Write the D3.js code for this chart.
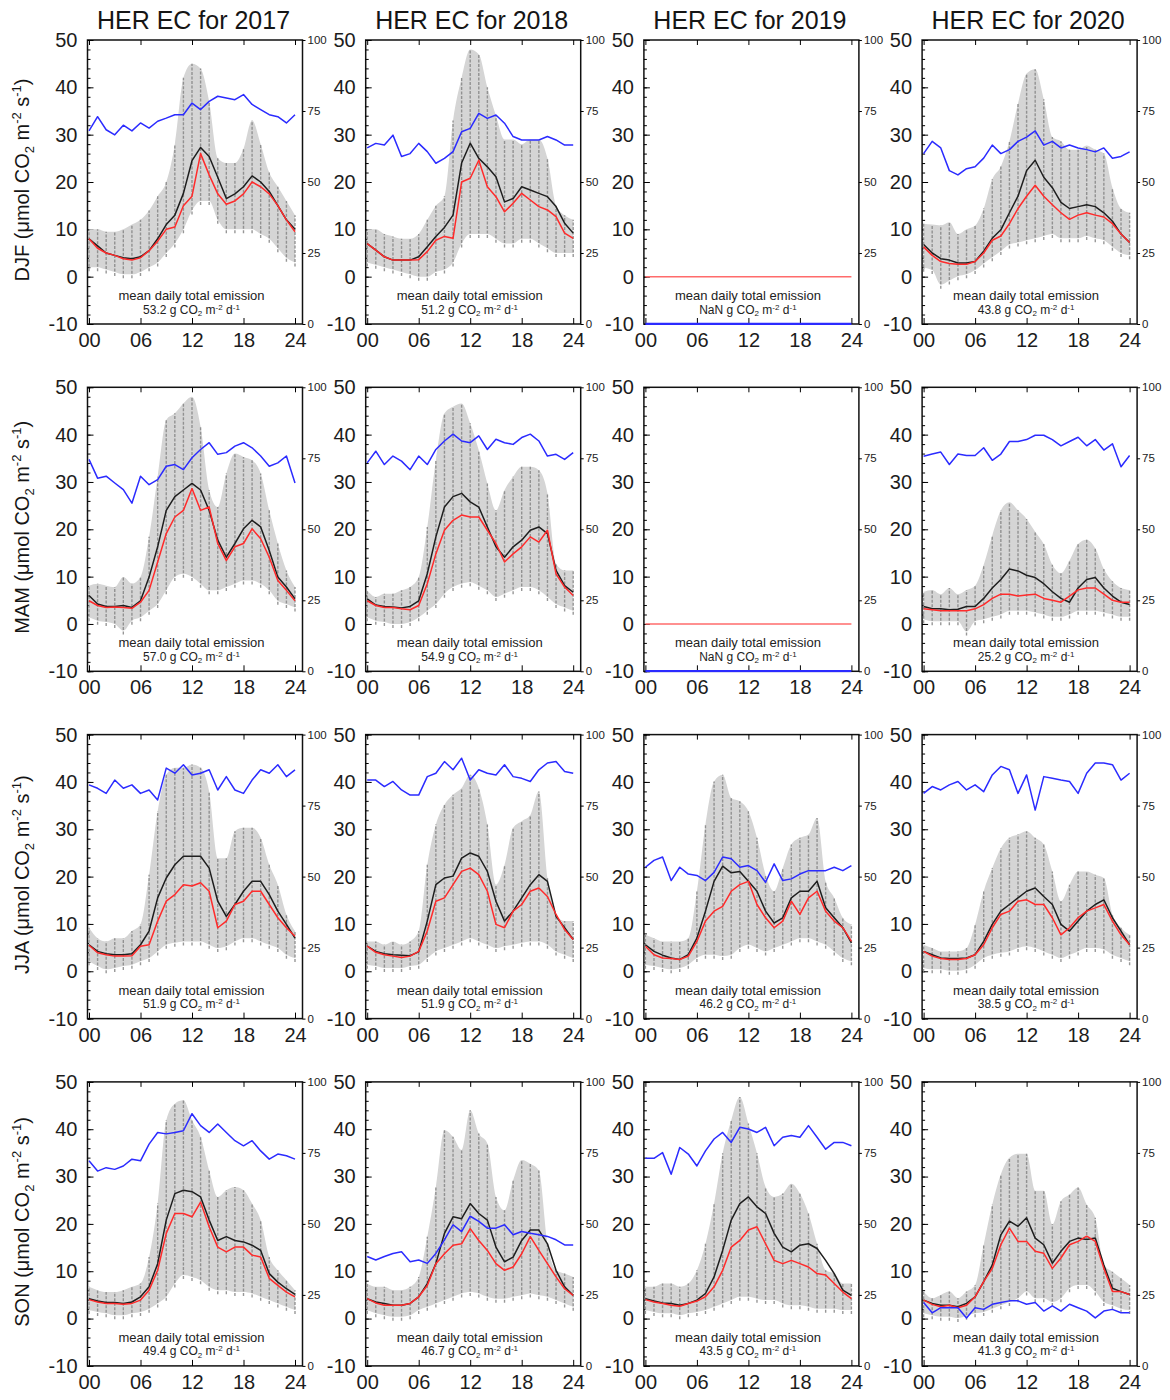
<!DOCTYPE html>
<html>
<head>
<meta charset="utf-8">
<script src="https://cdn.jsdelivr.net/npm/d3@7.9.0/dist/d3.min.js"></script>
<style>
  body { margin: 0; background: #fff; }
  svg { display: block; font-family: "Liberation Sans", Arial, sans-serif; }
</style>
</head>
<body>
<div id="chart"></div>
<script>
// hour of day (x values of every series)
const hours = [0, 1, 2, 3, 4, 5, 6, 7, 8, 9, 10, 11, 12, 13, 14, 15, 16, 17, 18, 19, 20, 21, 22, 23, 24];
const years = [2017, 2018, 2019, 2020];
const seasons = ["DJF", "MAM", "JJA", "SON"];
const xTicks = [0, 6, 12, 18, 24];
const yTicks = [-10, 0, 10, 20, 30, 40, 50];
const rTicks = [0, 25, 50, 75, 100];

// mean daily total emission (g CO2 m-2 d-1), rows = seasons, cols = years
const totalEmission = [
  ["53.2", "51.2", "NaN", "43.8"],
  ["57.0", "54.9", "NaN", "25.2"],
  ["51.9", "51.9", "46.2", "38.5"],
  ["49.4", "46.7", "43.5", "41.3"]
];

// 2019 winter/spring: no data, plotted as flat zero lines
const noData = [0, 0, 0, 0, 0, 0, 0, 0, 0, 0, 0, 0, 0, 0, 0, 0, 0, 0, 0, 0, 0, 0, 0, 0, 0];

// ---- DJF ----
const djfMean = [
  [8, 6.5, 5, 4.5, 4, 3.8, 4.2, 5.5, 8, 11, 13, 17.6, 24.5, 27.3, 25.4, 21, 16.5, 17.5, 19, 21.3, 20, 18, 15, 12, 10],
  [7, 5.6, 4.2, 3.5, 3.5, 3.5, 4.2, 6.3, 8.5, 10.4, 13, 24, 28.2, 25, 23.2, 21.1, 15.8, 16.5, 19, 18.3, 17.6, 16.9, 14.8, 11.3, 9.2],
  null,
  [6.8, 5, 3.8, 3.5, 2.9, 2.9, 3.2, 5.4, 8.1, 9.9, 13.5, 17, 22.4, 24.6, 21, 18.8, 15.7, 14.4, 14.8, 15.2, 14.8, 13.5, 11.7, 9, 7.2]
];
const djfMedian = [
  [8, 6, 5, 4.5, 3.8, 3.5, 4, 5.5, 7.5, 10, 10.5, 15, 17, 26, 21.5, 17.5, 15.3, 16, 17.5, 20, 19, 17.5, 15, 12, 9.5],
  [7, 5.6, 4.2, 3.5, 3.5, 3.5, 3.6, 5.3, 7.7, 8.5, 8.1, 20, 20.8, 24.6, 19, 16.9, 13.7, 15.5, 17.6, 16.2, 14.8, 14.1, 12.7, 9.2, 8.1],
  noData,
  [6.3, 4.5, 3.2, 2.8, 2.6, 2.6, 3.2, 5, 7.7, 8.6, 11.2, 14.4, 17, 19.3, 17, 15.2, 13.5, 12.1, 13, 13.5, 13, 12.6, 11.2, 9, 7.2]
];
const djfCover = [
  [68, 73, 68.4, 66.6, 70, 68, 70.8, 69, 71.4, 72.5, 73.7, 73.7, 77.8, 75.5, 78.4, 80.2, 79.6, 79, 80.8, 77.3, 75.5, 73.7, 73, 70.8, 73.7],
  [62, 63.6, 63, 66.5, 59, 60, 63.6, 60.7, 56.6, 58.3, 60.7, 67.7, 68.9, 74.2, 72.4, 73.6, 70.7, 66, 64.8, 64.8, 64.8, 66, 64.8, 63, 63],
  noData,
  [60, 64.3, 62, 54, 52.5, 54.7, 55.4, 58.4, 63, 60, 61.4, 64.3, 65.8, 68, 63, 64.3, 62, 63, 62, 61.4, 60.6, 62, 58.4, 59, 60.6]
];
const djfLo = [
  [2, 2, 1.5, 1, 0.5, 0.5, 1, 2, 3, 5, 7, 10, 14, 16, 16, 12, 10, 10, 10, 10, 9, 8, 6, 4, 3],
  [3, 2.5, 2, 1.5, 1, 0.5, 0, 0, 1, 1.5, 3, 7, 9, 9, 9, 8, 7, 7, 8, 8, 7, 6, 5, 5, 5],
  null,
  [1.9, 1.4, -1.7, -0.8, 0.1, 0.5, 1.4, 2.8, 4.1, 5.4, 6.8, 7.2, 7.7, 8.1, 8.6, 9, 8.1, 8.1, 8.1, 8.6, 8.1, 7.7, 6.3, 5, 4.5]
];
const djfHi = [
  [10, 10, 9.5, 9.5, 10, 11, 12, 14, 17, 20, 28, 42, 45, 44, 37, 25, 24, 24, 27, 33, 28, 22, 19, 16, 13],
  [10, 10, 9, 8.5, 8, 8, 9, 12, 15, 17, 33, 42, 48, 47, 40, 34, 29, 29, 28, 29, 29, 25, 15, 13, 12],
  null,
  [11.2, 11, 10.8, 11.5, 9, 10, 10.8, 14.4, 20.6, 23.3, 28.6, 36.6, 42.9, 43.8, 37.5, 29.5, 28.6, 26.8, 26.8, 27.7, 26.8, 26, 18.8, 14.4, 13.5]
];

// ---- MAM ----
const mamMean = [
  [6, 4.2, 3.7, 3.7, 3.9, 3.5, 4.9, 9.9, 16.3, 24, 26.9, 28.3, 29.7, 28.3, 24, 17.7, 14.1, 17, 20.1, 21.9, 20.5, 15.5, 9.9, 7.8, 5.3],
  [5.3, 4, 3.7, 3.6, 3.4, 3.7, 4.9, 10.6, 18.4, 24.7, 26.9, 27.6, 25.8, 24.7, 20.5, 16.3, 14.1, 16.3, 17.7, 19.8, 20.5, 19.1, 11.3, 8.1, 6.7],
  null,
  [3.7, 3.2, 3.2, 3, 3.1, 3.7, 3.7, 5.4, 7.6, 9.4, 11.6, 11.2, 10.3, 9.8, 8.5, 6.8, 5.4, 4.6, 7.6, 9.4, 9.8, 7.6, 5.9, 4.6, 4.1]
];
const mamMedian = [
  [4.9, 3.9, 3.5, 3.6, 3.5, 3.3, 4.6, 7.1, 13.1, 19.1, 22.6, 24, 28.6, 24, 24.7, 17, 13.4, 16.3, 17, 20.1, 18, 14.1, 9.2, 7.1, 4.9],
  [4.9, 3.9, 3.5, 3.5, 3.2, 3, 3.9, 8.5, 14.8, 19.8, 21.9, 23, 22.6, 22.6, 19.8, 17, 13.1, 14.8, 16.3, 18.4, 17.3, 19.8, 10.6, 7.8, 6],
  noData,
  [3.2, 3, 2.8, 2.8, 2.8, 2.8, 3.2, 4.1, 5.4, 6.3, 6.3, 5.9, 6.1, 6.3, 5.4, 5, 4.6, 5.9, 7.2, 7.6, 7.6, 6.3, 5, 4.6, 4.6]
];
const mamCover = [
  [74.6, 68, 68.7, 66.3, 64, 59.2, 68.7, 65.7, 67.5, 72.2, 72.8, 71, 75.2, 78.1, 80.5, 76.4, 77, 79.3, 80.5, 78.7, 75.8, 72.2, 73.4, 75.8, 66.3],
  [73.4, 77.5, 72.8, 75.8, 74, 71, 75.8, 72.8, 78.1, 81.1, 83.5, 81.1, 80.5, 82.9, 78.1, 81.7, 80.5, 79.9, 82.3, 83.5, 81.1, 75.8, 76.4, 74.6, 77],
  noData,
  [75.7, 76.5, 77.2, 72.8, 76.5, 76, 76, 78.7, 74.3, 76.5, 80.9, 80.9, 81.6, 83.1, 83.1, 81.6, 79.4, 80.9, 82.4, 79.4, 81.6, 77.9, 80.1, 72, 76]
];
const mamLo = [
  [1.4, 0.7, 0.4, 0, -1.4, 0.7, 1.4, 2.8, 4.2, 7.1, 9.9, 10.6, 9.9, 8.5, 7.1, 7.1, 7.8, 8.5, 9.2, 9.2, 8.5, 7.1, 4.9, 4.2, 3.5],
  [1.4, 0.7, 0.4, 0, 0, 0.4, 1.4, 2.8, 4.2, 6.4, 7.8, 8.5, 8.8, 8.1, 7.1, 5.7, 6.4, 7.1, 7.8, 7.8, 7.1, 5.7, 4.2, 3.5, 2.8],
  null,
  [1, 0.6, 0.6, 0.6, 0.6, -1.6, 0.6, 1, 1.5, 2, 2.8, 2.8, 2.8, 2.4, 2, 1.5, 1.5, 2, 2.8, 2.8, 2.8, 2.4, 2, 1.5, 1.5]
];
const mamHi = [
  [8.1, 8.5, 8.1, 7.8, 9.9, 8.5, 9.9, 18.4, 31.1, 43.1, 44.5, 46.6, 48, 41.7, 28.3, 24.7, 31.8, 36, 35.3, 34.6, 31.8, 24, 17, 11.3, 7.8],
  [7.1, 5.7, 6.4, 6.4, 7.1, 7.8, 9.9, 20.5, 34.6, 44.5, 45.9, 46.6, 42.4, 36.7, 29.7, 24, 28.3, 31.1, 33.2, 33.2, 32.5, 27.6, 12.7, 11.3, 11.3],
  null,
  [6.8, 7.2, 6.3, 7.6, 6.3, 7.2, 8.1, 12.5, 18.7, 24, 25.7, 24, 22.2, 19.5, 16.9, 12.5, 10.7, 13.4, 16.9, 17.8, 16, 11.6, 9, 7.6, 7.2]
];

// ---- JJA ----
const jjaMean = [
  [5.6, 4.2, 3.7, 3.5, 3.5, 3.7, 5.6, 8.5, 15.5, 19.7, 22.5, 24.3, 24.3, 24.3, 21.8, 14.8, 11.6, 14.1, 16.9, 19, 19, 16.2, 12.7, 9.9, 7],
  [5.3, 4.2, 3.7, 3.5, 3.4, 3.3, 4.1, 10.6, 18.3, 19.7, 20.1, 23.9, 25, 24.3, 21.1, 14.8, 10.6, 12.7, 15.5, 18.3, 20.4, 19, 11.6, 9.2, 6.7],
  [5.6, 4.2, 3.4, 2.8, 2.5, 3.5, 7, 12.7, 19, 22.2, 20.8, 21.1, 19, 16.9, 12.7, 10.2, 11.3, 15.5, 16.9, 16.9, 19, 13.4, 11.3, 9.2, 6],
  [4.2, 3.5, 2.8, 2.7, 2.7, 2.8, 3.5, 6.3, 9.9, 12.7, 14.1, 15.5, 16.9, 17.6, 15.8, 14.1, 9.9, 8.5, 10.6, 12.7, 14.1, 15.1, 11.3, 8.5, 5.6]
];
const jjaMedian = [
  [5.5, 3.9, 3.5, 3.2, 3.2, 3.3, 5.3, 5.6, 10.6, 14.8, 16.2, 18.3, 18, 18.7, 16.9, 9.2, 10.6, 14.1, 14.8, 16.9, 16.9, 14.1, 11.3, 9.2, 7.4],
  [5.3, 4, 3.5, 3.2, 2.9, 3.2, 4.2, 8.5, 14.8, 15.5, 18.3, 21.1, 21.8, 20.4, 16.9, 9.9, 9.2, 12.7, 14.1, 16.9, 17.6, 15.8, 12, 8.8, 6.7],
  [5.3, 3.5, 2.8, 2.7, 2.5, 3.2, 6.3, 10.6, 12.7, 13.7, 16.9, 18.3, 19, 14.1, 11.3, 9.2, 10.6, 14.8, 12, 15.5, 16.9, 12.7, 10.6, 9.2, 6.3],
  [4.2, 3.2, 2.7, 2.5, 2.5, 2.7, 3.5, 5.6, 9.2, 12, 12.7, 14.8, 15.1, 14.1, 14.1, 11.3, 7.7, 9.2, 11.3, 12.7, 13.4, 14.1, 10.6, 7.7, 5.6]
];
const jjaCover = [
  [82.3, 81.1, 79.3, 84, 81.1, 82.3, 79.3, 80.5, 77, 88.2, 86.4, 89.4, 85.8, 86.4, 87.6, 80.5, 85.2, 80.5, 79.3, 84, 87.6, 86.4, 89.4, 85.2, 87.6],
  [84, 84, 81.7, 83.5, 80.5, 78.7, 78.7, 85.2, 86.4, 90.5, 87.6, 91.7, 84, 87.6, 86.4, 85.8, 89.4, 85.2, 84.6, 83.5, 87.6, 90, 90.5, 87, 86.4],
  [53.3, 55.7, 56.9, 48.6, 53.3, 50.9, 50.4, 48.6, 51.5, 56.9, 56.3, 53.3, 53.9, 52.1, 48, 54.5, 48.6, 49.2, 50.9, 52.1, 52.1, 52.1, 53.3, 52.1, 53.9],
  [79.3, 81.7, 80.5, 82.3, 83.5, 80.5, 82.3, 79.9, 85.8, 88.8, 87.6, 79.3, 85.8, 73.4, 85.2, 84.6, 84, 83.5, 79.3, 86.4, 90, 90, 89.4, 84, 86.4]
];
const jjaLo = [
  [2.1, 1.1, 0.4, 0.7, 1.1, 1.4, 2.1, 2.8, 4.2, 5.6, 6, 6.3, 6.3, 6.3, 5.6, 4.9, 5.3, 6.3, 7, 7, 6.3, 5.6, 4.9, 3.5, 2.8],
  [1.4, 1.1, 0.7, 0.7, 0.7, 1.1, 1.4, 2.8, 4.2, 4.9, 5.6, 6.3, 7, 6.3, 5.6, 4.9, 5.3, 5.6, 6, 6.3, 6.3, 5.6, 4.2, 3.5, 2.8],
  [1.4, 1.1, 0.7, 0.4, 0.7, 1.4, 2.8, 3.5, 3.5, 3.2, 3.5, 4.9, 5.6, 4.9, 4.2, 4.9, 5.6, 6.3, 7, 7, 6.3, 5.6, 4.2, 2.8, 2.1],
  [0.7, 0.4, 0.4, 0.1, 0.1, 0.4, 1.4, 2.8, 3.5, 3.9, 4.2, 4.9, 5.3, 4.9, 4.2, 3.5, 2.8, 3.5, 4.2, 4.9, 4.9, 4.6, 3.5, 2.8, 2.1]
];
const jjaHi = [
  [9.2, 7, 6.3, 7, 7, 8.5, 9.9, 20.4, 33.8, 41.5, 43, 43, 43.7, 43, 38, 23.9, 23.9, 29.6, 30.3, 30.3, 28.2, 22.5, 18.3, 12, 8.5],
  [6.3, 6.3, 5.6, 6.3, 5.6, 6.3, 8.5, 22.5, 31, 35.2, 37.3, 38.7, 41.5, 38.7, 31, 18.3, 22.5, 30.3, 31.7, 33, 38, 19.7, 12, 10.6, 10.6],
  [7.7, 7, 6.3, 6.3, 6.3, 7, 16.9, 31, 40.1, 41.5, 36.6, 35.9, 33.8, 28.2, 20.4, 16.9, 21.8, 26.8, 28.2, 28.9, 32.4, 19, 15.5, 11.3, 9.9],
  [5.6, 4.9, 4.2, 4.2, 4.2, 4.9, 9.9, 16.9, 21.8, 26, 28.2, 28.9, 29.6, 28.2, 26.8, 21.1, 14.8, 18.3, 21.1, 21.1, 20.4, 19.7, 12, 9.2, 7.7]
];

// ---- SON ----
const sonMean = [
  [4.2, 3.7, 3.4, 3.4, 3.2, 3.5, 4.6, 6.7, 11.6, 20.8, 26.4, 27.1, 26.8, 25.7, 20.8, 16.5, 17.3, 16.5, 16.2, 15.5, 14.4, 9.5, 7.7, 6.3, 5.1],
  [4.2, 3.5, 3.2, 2.8, 2.8, 3.2, 4.6, 7.4, 11.6, 18, 21.5, 21.1, 24.3, 22.2, 20.8, 15.1, 12, 13, 16.5, 18.7, 18.7, 15.8, 10.2, 6.7, 4.9],
  [4.2, 3.7, 3.3, 3.2, 2.8, 3.2, 3.9, 5.3, 8.8, 14.4, 20.8, 24.3, 25.7, 23.6, 22.2, 18, 15.1, 14.1, 15.5, 15.8, 14.8, 12.3, 9.5, 6, 4.9],
  [3.9, 3.2, 2.8, 2.8, 2.5, 3.2, 4.6, 7.8, 11.3, 17.7, 20.6, 19.5, 21.3, 17, 15.6, 11.7, 14.2, 16.3, 17, 16.7, 17, 11.3, 6.4, 5.7, 5.1]
];
const sonMedian = [
  [4, 3.5, 3.2, 3.2, 3, 3.2, 3.9, 6, 10.2, 18, 22.2, 22.2, 21.5, 24.6, 19.4, 15.1, 14.1, 15.1, 15.1, 13.4, 13, 8.5, 7, 5.6, 4.6],
  [4.2, 3.3, 2.8, 2.8, 2.8, 3.2, 4.6, 7, 11.6, 13.7, 15.5, 15.8, 19, 16.5, 14.4, 11.6, 10.2, 10.9, 13.7, 17.3, 14.4, 11.6, 8.8, 6.3, 4.9],
  [4, 3.5, 3.2, 2.8, 2.6, 3.2, 3.7, 4.6, 6.7, 10.2, 15.1, 16.5, 18.7, 19.4, 15.8, 12.3, 11.6, 12.3, 11.6, 10.9, 9.5, 9.2, 7.4, 5.6, 4.2],
  [3.9, 3, 2.5, 2.8, 2.3, 2.8, 4.6, 7.8, 10.6, 15.6, 19.1, 16.3, 16.3, 14.2, 13.8, 10.6, 12.8, 15.6, 16.3, 17.4, 16.3, 10.6, 5.7, 5.7, 5.1]
];
const sonCover = [
  [72.2, 68.6, 69.8, 69.2, 70.4, 72.8, 72.2, 78.1, 82.2, 81.7, 82.2, 82.8, 88.8, 84.6, 82.2, 85.2, 82.2, 79.3, 77.5, 79.3, 75.7, 72.8, 74.6, 74, 72.8],
  [38.5, 37.3, 38.5, 39.6, 40.2, 36.7, 37.3, 36.1, 39.6, 44.4, 49.7, 47.3, 52.7, 50.9, 48.5, 48.5, 49.7, 46.2, 47.3, 46.7, 46.2, 45.6, 44.4, 42.6, 42.6],
  [73.1, 73.1, 75.1, 67.5, 76.9, 74.6, 70.4, 75.7, 79.9, 82.2, 78.7, 84, 83.4, 82.2, 84, 77.5, 80.5, 81.1, 80.5, 84.6, 80.5, 76.3, 78.7, 78.7, 77.5],
  [22.3, 18.7, 20.5, 20.5, 20.5, 16.9, 20.5, 19.9, 21.7, 22.3, 22.9, 22.9, 21.7, 22.3, 19.3, 21.1, 19.3, 21.7, 20.5, 19.3, 16.9, 19.3, 19.9, 18.7, 18.7]
];
const sonLo = [
  [1.8, 1.4, 1.1, 0.7, 0.7, 1.1, 1.4, 2.1, 3.2, 4.6, 7.4, 9.2, 8.8, 8.1, 6.7, 6, 6, 5.6, 5.6, 5.3, 4.6, 3.9, 3.2, 2.5, 1.8],
  [1.8, 1.1, 0.7, 0.4, 0.4, 0.7, 1.8, 2.5, 3.2, 3.9, 4.6, 5.3, 5.6, 5.3, 4.6, 4.2, 4.2, 4.6, 4.9, 5.3, 4.9, 4.6, 3.9, 3.2, 2.5],
  [1.8, 1.4, 1.1, 1.1, 0.7, 1.1, 1.4, 1.8, 2.5, 3.2, 3.9, 4.6, 4.6, 4.2, 3.9, 3.9, 3.2, 2.8, 2.8, 2.5, 2.1, 2.1, 2.1, 1.8, 1.8],
  [1.1, 0.7, 0.4, 0.4, 0.1, 0.6, 1.1, 1.4, 2.1, 2.8, 3.5, 4.3, 5.7, 4.3, 4.3, 3.5, 4.3, 6.4, 7.1, 7.1, 5.7, 3.5, 2.8, 2.1, 1.8]
];
const sonHi = [
  [6.7, 6, 5.6, 5.6, 6, 6.7, 7.4, 13, 24.3, 41.9, 45.4, 46.1, 41.9, 38.4, 31.3, 25.7, 27.1, 27.8, 27.1, 24.3, 20.8, 13, 10.2, 8.1, 6],
  [7.4, 6.7, 6.7, 6, 6, 6.7, 8.8, 17.3, 27.8, 39.8, 38.4, 35.6, 44, 39.1, 37, 25.7, 22.9, 29.2, 33.5, 32.7, 31.3, 15.8, 10.2, 9.5, 8.8],
  [6.7, 6.7, 7.4, 7.4, 6.7, 7.4, 10.2, 15.8, 24.3, 34.9, 41.9, 46.8, 41.2, 34.9, 27.8, 25.7, 26.4, 28.5, 26.4, 22.2, 15.8, 10.2, 9.5, 7.4, 7.4],
  [5.7, 4.3, 5, 5.7, 4.3, 5.7, 7.1, 15.6, 24.1, 30.5, 34, 34.8, 34.8, 27, 27, 19.9, 24.8, 26.2, 27.7, 24.1, 21.3, 11.3, 9.9, 8.5, 7.1]
];

const seasonTable = [
  { mean: djfMean, median: djfMedian, cover: djfCover, lo: djfLo, hi: djfHi },
  { mean: mamMean, median: mamMedian, cover: mamCover, lo: mamLo, hi: mamHi },
  { mean: jjaMean, median: jjaMedian, cover: jjaCover, lo: jjaLo, hi: jjaHi },
  { mean: sonMean, median: sonMedian, cover: sonCover, lo: sonLo, hi: sonHi }
];

// layout
const width = 1170, height = 1400;
const left0 = 87.5, colStep = 278.2;
const top0 = 40, rowStep = 347.3;
const frameW = 215, frameH = 284;

const svg = d3.select("#chart").append("svg")
    .attr("width", width)
    .attr("height", height)
    .attr("viewBox", [0, 0, width, height]);

// column titles
years.forEach((yr, c) => {
  svg.append("text")
      .attr("x", left0 + c * colStep + 106)
      .attr("y", 29)
      .attr("text-anchor", "middle")
      .attr("font-size", 25)
      .attr("fill", "#151515")
      .text(`HER EC for ${yr}`);
});

// row labels
seasons.forEach((s, r) => {
  const t = svg.append("text")
      .attr("transform", `translate(29,${top0 + r * rowStep + 140}) rotate(-90)`)
      .attr("text-anchor", "middle")
      .attr("font-size", 20)
      .attr("fill", "#151515");
  t.append("tspan").text(`${s} (\u03bcmol CO`);
  t.append("tspan").attr("font-size", 13).attr("dy", 5).text("2");
  t.append("tspan").attr("dy", -5).text(" m");
  t.append("tspan").attr("font-size", 13).attr("dy", -8).text("-2");
  t.append("tspan").attr("dy", 8).text(" s");
  t.append("tspan").attr("font-size", 13).attr("dy", -8).text("-1");
  t.append("tspan").attr("dy", 8).text(")");
});

function panel(r, c) {
  const L = left0 + c * colStep;
  const T = top0 + r * rowStep;
  const d = seasonTable[r];
  const mean = d.mean[c], median = d.median[c], cover = d.cover[c];
  const lo = d.lo[c], hi = d.hi[c];

  const x = d3.scaleLinear([0, 24], [L + 1.5, L + 207.5]);
  const y = d3.scaleLinear([-10, 50], [T + frameH, T]);
  const yR = d3.scaleLinear([0, 100], [T + frameH, T]);

  const g = svg.append("g");
  const clipId = `clip-${r}-${c}`;
  g.append("clipPath").attr("id", clipId)
    .append("rect")
      .attr("x", L - 1).attr("y", T - 1)
      .attr("width", frameW + 2).attr("height", frameH + 2);

  // frame
  g.append("rect")
      .attr("x", L).attr("y", T)
      .attr("width", frameW).attr("height", frameH)
      .attr("fill", "none")
      .attr("stroke", "#111")
      .attr("stroke-width", 1.5);

  // axes
  g.append("g")
      .attr("transform", `translate(${L},0)`)
      .call(d3.axisLeft(y).tickValues(d3.range(-10, 51, 2)).tickSize(-3).tickFormat(""))
      .call(a => a.select(".domain").remove());
  g.append("g")
      .attr("transform", `translate(${L},0)`)
      .call(d3.axisLeft(y).tickValues(yTicks).tickSize(-6).tickPadding(10).tickFormat(v => String(v)))
      .call(a => a.select(".domain").remove())
      .call(a => a.selectAll("text")
          .attr("font-size", 20)
          .attr("font-family", "Liberation Sans, Arial, sans-serif")
          .attr("fill", "#1c1c1c"));
  g.append("g")
      .attr("transform", `translate(0,${T + frameH})`)
      .call(d3.axisBottom(x).tickValues(xTicks).tickSize(-6).tickPadding(9)
          .tickFormat(v => String(v).padStart(2, "0")))
      .call(a => a.select(".domain").remove())
      .call(a => a.selectAll("text")
          .attr("font-size", 20)
          .attr("font-family", "Liberation Sans, Arial, sans-serif")
          .attr("fill", "#1c1c1c"));
  g.append("g")
      .attr("transform", `translate(0,${T})`)
      .call(d3.axisTop(x).tickValues(xTicks).tickSize(-5).tickFormat(""))
      .call(a => a.select(".domain").remove());
  g.append("g")
      .attr("transform", `translate(${L + frameW},0)`)
      .call(d3.axisRight(yR).tickValues(rTicks).tickSize(3).tickPadding(2))
      .call(a => a.select(".domain").remove())
      .call(a => a.selectAll("text")
          .attr("font-size", 11.5)
          .attr("font-family", "Liberation Sans, Arial, sans-serif")
          .attr("fill", "#1c1c1c"));

  const plot = g.append("g").attr("clip-path", `url(#${clipId})`);

  if (lo && hi) {
    // shaded spread
    plot.append("path")
        .datum(hours)
        .attr("fill", "#d5d5d5")
        .attr("d", d3.area()
            .x(i => x(i))
            .y0(i => y(lo[i]))
            .y1(i => y(hi[i]))
            .curve(d3.curveMonotoneX));

    // hourly columns of single observations
    plot.selectAll("line.obs")
      .data(hours)
      .join("line")
        .attr("class", "obs")
        .attr("x1", i => x(i)).attr("x2", i => x(i))
        .attr("y1", i => y(lo[i]) + 4)
        .attr("y2", i => y(hi[i]))
        .attr("stroke", "#858585")
        .attr("stroke-width", 1.4)
        .attr("stroke-opacity", 0.85)
        .attr("stroke-dasharray", "3,1.5");
  }

  const lineL = d3.line().x(i => x(i));

  if (mean) {
    plot.append("path")
        .attr("fill", "none")
        .attr("stroke", "#1e1e1e")
        .attr("stroke-width", 1.5)
        .attr("stroke-linejoin", "round")
        .attr("d", lineL.y(i => y(mean[i]))(hours));
  }

  plot.append("path")
      .attr("fill", "none")
      .attr("stroke", mean ? "#ff2b2b" : "#ff6b6b")
      .attr("stroke-width", 1.5)
      .attr("stroke-linejoin", "round")
      .attr("d", lineL.y(i => y(median[i]))(hours));

  plot.append("path")
      .attr("fill", "none")
      .attr("stroke", "#2b2bff")
      .attr("stroke-width", mean ? 1.5 : 2.5)
      .attr("stroke-linejoin", "round")
      .attr("d", lineL.y(i => yR(cover[i]))(hours));

  // annotation
  const cx = L + 104;
  g.append("text")
      .attr("x", cx).attr("y", T + 260)
      .attr("text-anchor", "middle")
      .attr("font-size", 13)
      .attr("fill", "#222")
      .text("mean daily total emission");
  const t2 = g.append("text")
      .attr("x", cx).attr("y", T + 273.5)
      .attr("text-anchor", "middle")
      .attr("font-size", 12)
      .attr("fill", "#222");
  t2.append("tspan").text(`${totalEmission[r][c]} g CO`);
  t2.append("tspan").attr("font-size", 8).attr("dy", 2.5).text("2");
  t2.append("tspan").attr("dy", -2.5).text(" m");
  t2.append("tspan").attr("font-size", 8).attr("dy", -4).text("-2");
  t2.append("tspan").attr("dy", 4).text(" d");
  t2.append("tspan").attr("font-size", 8).attr("dy", -4).text("-1");
}

seasons.forEach((s, r) => years.forEach((yr, c) => panel(r, c)));
</script>
</body>
</html>
